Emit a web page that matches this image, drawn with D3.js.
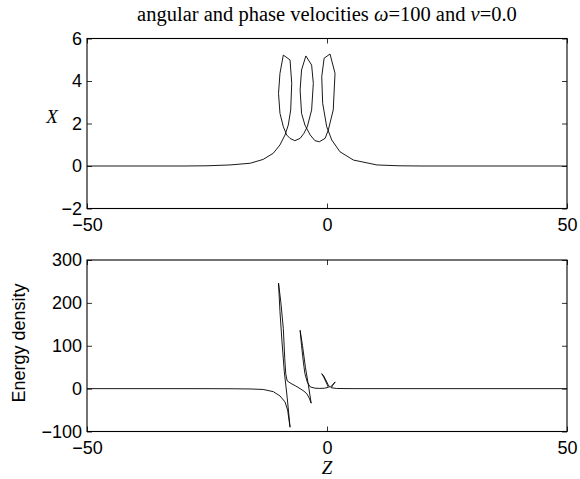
<!DOCTYPE html>
<html>
<head>
<meta charset="utf-8">
<script src="https://cdn.jsdelivr.net/npm/d3@7"></script>
<style>
  body { margin: 0; background: #fff; }
  svg { display: block; }
</style>
</head>
<body>
<script>
// top panel: X against Z, traced in path order (three hairpin loops)
const topZ = [-50, -40, -30, -25, -20.2, -16, -13.3, -11.2, -9.8, -8.75, -8.06, -7.56, -7.35, -7.7, -9.1,
  -9.8, -10.1, -9.8, -9.1, -8.4, -7.7, -6.7, -5.6, -4.8, -4.1, -3.2, -2.85, -3.2, -4.4,
  -5.3, -5.6, -5.3, -4.6, -3.5, -2.5, -1.6, -0.4, 0.27, 1.3, 1.67, 0.63,
  -0.6, -1.1, -0.9, -0.06, 1.0, 2.7, 5.5, 10.4, 15, 20, 30, 40, 50];
const topX = [0, 0, 0, 0.01, 0.05, 0.13, 0.31, 0.6, 0.99, 1.46, 1.93, 2.64, 3.89, 4.99, 5.22,
  4.36, 3.42, 2.48, 1.85, 1.46, 1.30, 1.19, 1.30, 1.54, 1.85, 2.64, 3.89, 4.75, 5.18,
  4.52, 3.58, 2.48, 1.93, 1.46, 1.19, 1.14, 1.30, 1.69, 2.64, 4.36, 5.27,
  5.07, 4.2, 2.95, 1.85, 1.22, 0.67, 0.28, 0.05, 0.01, 0, 0, 0, 0];

// bottom panel: energy density against Z
const botZ = [-50, -40, -30, -25, -20, -16, -13.3, -11.2, -9.8, -8.75, -8.2, -7.7,
  -8.3, -8.9, -9.4, -9.8, -10.1,
  -9.6, -9.1, -8.8, -8.6, -8.3, -7.5, -6.5, -5.6, -4.8, -4.2, -3.7, -3.3,
  -3.9, -4.5, -5.1, -5.6,
  -5.3, -4.9, -4.6, -4.1, -3.5, -2.5, -1.5, -0.5, 0.3,
  -0.6, -1.1, -0.7, 0.2, 0.6, 1.2, 1.7, 1.2, 0.9, 2, 5, 10, 20, 30, 40, 50];
const botE = [0, 0, 0, -0.1, -0.3, -0.8, -2, -7, -17, -31, -50, -90,
  -20, 40, 113, 180, 246,
  200, 140, 70, 35, 18, 12, 6, 0, -6, -12, -22, -34,
  10, 50, 100, 136,
  100, 60, 35, 15, 4, 1, 0.5, 1, 3,
  25, 35, 30, 10, 3, 9, 15.6, 8, 2, 0.3, 0, 0, 0, 0, 0, 0];

const zTicks = [-50, 0, 50];
const xTicks = [-2, 0, 2, 4, 6];
const eTicks = [-100, 0, 100, 200, 300];

const W = 580, H = 479;
const left = 87, right = 567;
const sans = "'Liberation Sans', Arial, sans-serif";
const serif = "'Liberation Serif', 'Times New Roman', serif";
const fs = 18;

const svg = d3.select("body").append("svg").attr("width", W).attr("height", H);

const x = d3.scaleLinear().domain([-50, 50]).range([left, right]);
const yTop = d3.scaleLinear().domain([-2, 6]).range([208.5, 38.5]);
const yBot = d3.scaleLinear().domain([-100, 300]).range([431.5, 260]);

function panel(y, yTicks, zs, vs) {
  const [y0, y1] = y.range();
  const g = svg.append("g");

  // inward ticks on all four sides, MATLAB style
  const tick = 5;
  g.append("g").attr("transform", `translate(0,${y0})`)
    .call(d3.axisBottom(x).tickValues(zTicks).tickSizeInner(-tick).tickSizeOuter(0).tickPadding(10));
  g.append("g").attr("transform", `translate(0,${y1})`)
    .call(d3.axisTop(x).tickValues(zTicks).tickSizeInner(-tick).tickSizeOuter(0).tickFormat(""));
  g.append("g").attr("transform", `translate(${left},0)`)
    .call(d3.axisLeft(y).tickValues(yTicks).tickSizeInner(-tick).tickSizeOuter(0).tickPadding(5));
  g.append("g").attr("transform", `translate(${right},0)`)
    .call(d3.axisRight(y).tickValues(yTicks).tickSizeInner(-tick).tickSizeOuter(0).tickFormat(""));
  g.selectAll(".domain").remove();
  g.selectAll(".tick line").attr("stroke", "#000").attr("stroke-width", 0.8);
  g.selectAll(".tick text").attr("font-family", sans).attr("font-size", fs).attr("fill", "#000");

  g.append("rect")
    .attr("x", left).attr("y", y1)
    .attr("width", right - left).attr("height", y0 - y1)
    .attr("fill", "none").attr("stroke", "#000").attr("stroke-width", 1.1);

  const line = d3.line().x(d => x(d[0])).y(d => y(d[1]));
  g.append("path")
    .datum(d3.zip(zs, vs))
    .attr("d", line)
    .attr("fill", "none")
    .attr("stroke", "#000")
    .attr("stroke-width", 0.9)
    .attr("stroke-linejoin", "round");
}

panel(yTop, xTicks, topZ, topX);
panel(yBot, eTicks, botZ, botE);

// title
const title = svg.append("text")
  .attr("x", (left + right) / 2).attr("y", 21)
  .attr("text-anchor", "middle")
  .attr("font-family", serif).attr("font-size", 20.5);
title.append("tspan").text("angular and phase velocities ");
title.append("tspan").attr("font-style", "italic").text("ω");
title.append("tspan").text("=100 and ");
title.append("tspan").attr("font-style", "italic").text("v");
title.append("tspan").text("=0.0");

// axis labels
svg.append("text")
  .attr("x", 52).attr("y", 123)
  .attr("text-anchor", "middle")
  .attr("font-family", serif).attr("font-style", "italic").attr("font-size", 19)
  .text("X");

svg.append("text")
  .attr("transform", "translate(25,343) rotate(-90)")
  .attr("text-anchor", "middle")
  .attr("font-family", sans).attr("font-size", fs)
  .text("Energy density");

svg.append("text")
  .attr("x", (left + right) / 2).attr("y", 474)
  .attr("text-anchor", "middle")
  .attr("font-family", serif).attr("font-style", "italic").attr("font-size", 19)
  .text("Z");
</script>
</body>
</html>
